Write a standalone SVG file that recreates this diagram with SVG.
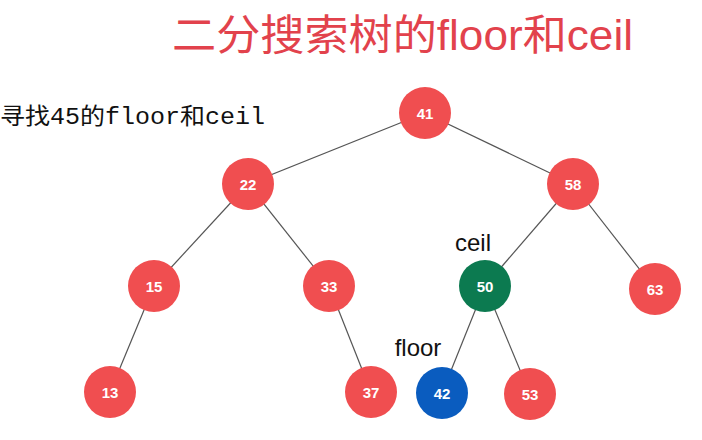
<svg xmlns="http://www.w3.org/2000/svg" width="702" height="440" viewBox="0 0 702 440">
<style>
.e{stroke:#555;stroke-width:1.2;fill:none}
.r{fill:#f04e50}
.g{fill:#0c7a50}
.b{fill:#0a5cbf}
.n{fill:#fff;font-family:"Liberation Sans",Arial,sans-serif;font-weight:bold;font-size:15px;text-anchor:middle;dominant-baseline:central}
.lbl{fill:#111;font-family:"Liberation Sans",Arial,sans-serif;font-size:24px;text-anchor:middle}
</style>
<rect width="702" height="440" fill="#fff"/>
<text x="172" y="50" font-family="'Liberation Sans','Noto Sans CJK SC',sans-serif" font-size="42" fill="#e2424c" textLength="461" lengthAdjust="spacingAndGlyphs">二分搜索树的floor和ceil</text>
<text x="0" y="124" font-family="'Liberation Mono','Noto Sans CJK SC',monospace" font-size="23" fill="#111" textLength="265" lengthAdjust="spacingAndGlyphs">寻找45的floor和ceil</text>
<g id="edges">
<line class="e" x1="425" y1="113" x2="248" y2="184"/>
<line class="e" x1="425" y1="113" x2="573" y2="184"/>
<line class="e" x1="248" y1="184" x2="154" y2="286"/>
<line class="e" x1="248" y1="184" x2="329" y2="286"/>
<line class="e" x1="573" y1="184" x2="485" y2="286"/>
<line class="e" x1="573" y1="184" x2="655" y2="289"/>
<line class="e" x1="154" y1="286" x2="110" y2="392"/>
<line class="e" x1="329" y1="286" x2="371" y2="392"/>
<line class="e" x1="485" y1="286" x2="442" y2="393"/>
<line class="e" x1="485" y1="286" x2="530" y2="394"/>
</g>
<g id="n41"><circle class="r" cx="425" cy="113" r="26"/><text class="n" x="425" y="113">41</text></g>
<g id="n22"><circle class="r" cx="248" cy="184" r="26"/><text class="n" x="248" y="184">22</text></g>
<g id="n58"><circle class="r" cx="573" cy="184" r="26"/><text class="n" x="573" y="184">58</text></g>
<g id="n15"><circle class="r" cx="154" cy="286" r="26"/><text class="n" x="154" y="286">15</text></g>
<g id="n33"><circle class="r" cx="329" cy="286" r="26"/><text class="n" x="329" y="286">33</text></g>
<g id="n50"><circle class="g" cx="485" cy="286" r="26"/><text class="n" x="485" y="286">50</text></g>
<g id="n63"><circle class="r" cx="655" cy="289" r="26"/><text class="n" x="655" y="289">63</text></g>
<g id="n13"><circle class="r" cx="110" cy="392" r="26"/><text class="n" x="110" y="392">13</text></g>
<g id="n37"><circle class="r" cx="371" cy="392" r="26"/><text class="n" x="371" y="392">37</text></g>
<g id="n42"><circle class="b" cx="442" cy="393" r="26"/><text class="n" x="442" y="393">42</text></g>
<g id="n53"><circle class="r" cx="530" cy="394" r="26"/><text class="n" x="530" y="394">53</text></g>
<g id="labels">
<text class="lbl" x="473" y="251">ceil</text>
<text class="lbl" x="418" y="356">floor</text>
</g>
</svg>
